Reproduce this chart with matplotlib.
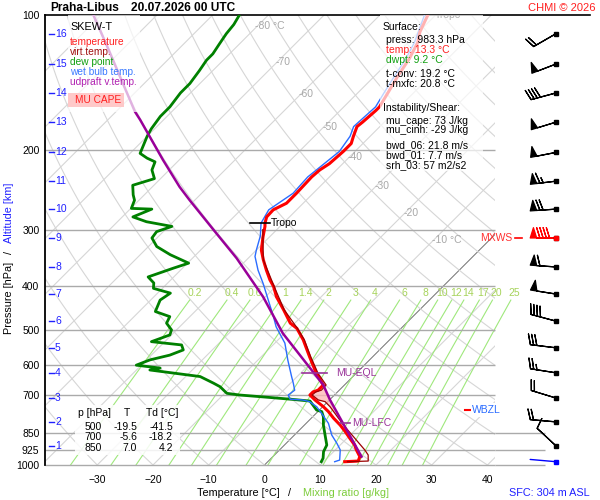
import numpy as np
import matplotlib
matplotlib.use('Agg')
import matplotlib.pyplot as plt
from matplotlib.patches import Rectangle
from matplotlib.transforms import Affine2D

plt.rcParams['font.family'] = ['Liberation Sans', 'DejaVu Sans']

# Sounding values (pressure hPa, temperature degC)
temp_p = [983.3, 980, 958, 926, 903, 872, 843, 815, 787, 761,
          742, 717, 699, 688, 682, 664, 626, 575, 527, 497,
          484, 452, 423, 401, 388, 369, 350, 333, 311, 295,
          290, 281, 271, 262, 249, 229, 221, 214, 201, 193,
          186, 177, 173, 163, 160, 149, 137, 125, 115, 109, 100]
temp_t = [13.8, 16.1, 15.6, 13.8, 12.6, 10.5, 8.5, 6.4, 4.0, 1.9,
          0.1, -2.6, -4.4, -4.4, -3.8, -3.8, -7.1, -11.3, -15.5, -18.7,
          -20.8, -24.4, -28.0, -30.4, -32.2, -34.6, -37.0, -39.1, -41.2, -42.7,
          -43.3, -44.1, -44.2, -43.0, -43.0, -43.2, -43.0, -42.4, -42.1, -42.1,
          -43.0, -44.1, -43.9, -43.6, -43.6, -44.6, -45.8, -46.9, -48.3, -49.8, -51.4]

tv_p = [983.3, 980, 950, 926, 872, 815, 742, 723, 717, 699,
        688, 682, 664, 626, 575, 527, 497, 452, 401, 350, 300]
tv_t = [14.3, 17.9, 16.8, 15.3, 11.4, 7.0, 1.3, -0.5, -2.0, -4.0,
        -3.9, -3.2, -3.3, -6.8, -11.1, -15.3, -18.6, -24.3, -30.3, -37.0, -42.5]

dew_p = [983.3, 966, 934, 903, 858, 815, 781, 761, 755, 721,
         715, 707, 699, 693, 670, 658, 636, 615, 609, 600,
         584, 570, 555, 541, 532, 514, 501, 484, 468, 456,
         430, 415, 405, 394, 382, 365, 356, 341, 327, 313,
         303, 295, 288, 281, 270, 269, 258, 251, 239, 231,
         221, 212, 208, 203, 186, 179, 168, 160, 149, 142,
         133, 126, 122, 116, 110, 105, 100]
dew_t = [9.6, 9.3, 8.2, 7.6, 5.5, 3.4, 1.9, 0.7, -0.5, -3.3,
         -6.6, -11.7, -17.0, -19.6, -22.0, -23.8, -27.4, -37.6, -36.1, -40.9,
         -39.4, -36.7, -35.2, -36.4, -42.4, -40.3, -40.9, -43.0, -43.6, -47.1,
         -48.3, -47.7, -51.6, -52.5, -54.6, -51.6, -49.8, -54.6, -58.5, -60.9,
         -61.2, -59.4, -64.8, -68.1, -66.1, -69.9, -70.8, -72.0, -73.8, -71.1,
         -73.1, -74.0, -76.1, -78.2, -80.0, -80.6, -81.2, -81.2, -81.8, -81.8,
         -82.4, -83.0, -83.0, -83.6, -84.2, -84.5, -85.2]

wb_p = [983.3, 975, 926, 895, 858, 808, 768, 742, 723, 717,
        714, 699, 682, 658, 636, 585, 536, 493, 468, 430,
        395, 369, 344, 333, 310, 290, 271, 249, 229, 201,
        186, 177, 160, 150, 137, 125, 115, 100]
wb_t = [12.0, 12.6, 10.9, 9.1, 6.7, 4.0, 1.0, -1.1, -3.3, -4.8,
        -7.2, -8.3, -8.0, -9.5, -11.0, -14.6, -18.2, -22.7, -25.0, -28.9,
        -32.8, -36.1, -39.1, -40.0, -41.8, -44.0, -45.0, -43.6, -43.9, -42.8,
        -43.6, -44.7, -44.3, -45.2, -46.4, -47.5, -48.9, -52.0]

par_p = [958, 717, 664, 510, 423, 347, 306, 258, 241, 210, 171, 164, 142, 120, 100]
par_t = [15.9, 0.1, -3.8, -20.3, -30.4, -42.1, -50.1, -60.9, -65.1, -72.9,
         -84.2, -86.6, -93.8, -102.2, -111.4]

tropo_p = [290, 100]
eql_p = 625
lfc_p = 808
wbzl_p = 755

# altitude axis (km) and the winds plotted at those heights
alt_km = list(range(1, 17))
alt_p = [907, 802, 710, 624, 549, 479, 417, 363, 313, 270, 234, 202, 173, 149, 128.5, 110]
wind_dir = [313, 275, 287, 279, 277, 285, 279, 274, 270, 266, 263, 259, 253, 255, 249, 240]
wind_kt = [10, 20, 20, 25, 30, 40, 50, 60, 90, 70, 65, 50, 50, 40, 50, 20]
sfc_p = 983.3
sfc_dir = 275

p_ticks = [100, 200, 300, 400, 500, 600, 700, 850, 925, 1000]
t_ticks = [-30, -20, -10, 0, 10, 20, 30, 40]
mix_ratios = [0.2, 0.4, 0.6, 1, 1.4, 2, 3, 4, 6, 8, 10, 12, 14, 17, 20, 25]
iso_lab_t = [-80, -70, -60, -50, -40, -30, -20, -10]
iso_lab_p = [106, 127, 150, 177, 207, 240, 275, 316]

table_p = [500, 700, 850]
table_t = [-19.5, -5.6, 7.0]
table_td = [-41.5, -18.2, 4.2]

SKEW = 35.05


def skx(t, p):
    return np.asarray(t, float) + SKEW * np.log(1000.0 / np.asarray(p, float))


def interp_lnp(pg, p, t):
    return np.interp(np.log(pg), np.log(np.asarray(p)[::-1]), np.asarray(t)[::-1])


fig = plt.figure(figsize=(6, 5), dpi=100)
px = Affine2D().scale(1 / 600, -1 / 500).translate(0, 1) + fig.transFigure
ax = fig.add_axes([45 / 600, 35 / 500, 450 / 600, 450 / 500])
ax.set_yscale('log')
x0, x1 = -39.37, 41.35
ax.set_xlim(x0, x1)
ax.set_ylim(1000, 100)

# background: isotherms, dry adiabats, mixing ratio lines, isobars
for t in range(-140, 50, 10):
    col, lw = ('#707070', 0.7) if t == 0 else ('#d6d6d6', 0.8)
    ax.plot(skx([t, t], [1000, 100]), [1000, 100], color=col, lw=lw, zorder=1)
pp = np.geomspace(1000, 100, 60)
for th in range(-40, 230, 10):
    tt = (th + 273.15) * (pp / 1000.0) ** 0.2857 - 273.15
    ax.plot(skx(tt, pp), pp, color='#d6d6d6', lw=0.8, zorder=1)
pm = np.geomspace(1000, 430, 30)
for w in mix_ratios:
    for pl, lab in [(pm, None), (np.array([415.0]), w)]:
        e = w * pl / (622.0 + w)
        a = np.log(e / 6.112)
        td = 243.5 * a / (17.67 - a)
        if lab is None:
            ax.plot(skx(td, pl), pl, color='#9fe87c', lw=0.8, zorder=1, clip_on=False)
        else:
            ax.text(skx(td, pl)[0], pl[0], f'{lab:g}', color='#a6d35a', fontsize=7.5,
                    ha='center', va='center', zorder=2, clip_on=False)
for t, p in zip(iso_lab_t, iso_lab_p):
    s = f'{t} °C' if t in (-80, -10) else f'{t}'
    ax.text(skx(t, p) - 0.3, p, s, color='#a8a8a8', fontsize=7.5, va='center', ha='left', zorder=2)

ax.hlines(p_ticks[1:], x0, x1, colors='#aaaaaa', lw=1, zorder=2, clip_on=False)
ax.hlines([850, 925, 1000], x1, 50.3, colors='#aaaaaa', lw=1, zorder=2, clip_on=False)
ax.plot([x0, 58.4], [100, 100], color='black', lw=1.2, zorder=2, clip_on=False)

# CAPE area between the parcel and the virtual temperature
pg = np.geomspace(lfc_p, eql_p, 200)
tv_g = interp_lnp(pg, tv_p, tv_t)
par_g = interp_lnp(pg, par_p, par_t)
ax.fill_betweenx(pg, skx(tv_g, pg), skx(par_g, pg), where=par_g > tv_g,
                 color='#ffb4b4', alpha=0.75, lw=0, zorder=3)

ax.plot(skx(dew_t, dew_p), dew_p, color='#008000', lw=2.0, zorder=4)
ax.plot(skx(wb_t, wb_p), wb_p, color='#2a6cff', lw=1.0, zorder=5)
ax.plot(skx(temp_t, temp_p), temp_p, color='#ff0000', lw=2.2, zorder=6)
ax.plot(skx(tv_t, tv_p), tv_p, color='#9b0000', lw=0.9, zorder=7)
ax.plot(skx(par_t, par_p), par_p, color='#990099', lw=1.8, zorder=8)

# level markers
xt = interp_lnp(np.array([tropo_p[0]]), temp_p, temp_t)
xt = skx(xt, tropo_p[0])[0]
ax.plot([xt - 2.7, xt + 0.9], [tropo_p[0]] * 2, color='black', lw=1.2, zorder=9)
ax.text(xt + 1.1, tropo_p[0], 'Tropo', fontsize=7.5, va='center', zorder=9)
xt2 = skx(interp_lnp(np.array([tropo_p[1]]), temp_p, temp_t), tropo_p[1])[0]
ax.text(xt2 + 1.3, tropo_p[1], 'Tropo', fontsize=7.5, va='center', zorder=9, clip_on=True)
xe = skx(interp_lnp(np.array([eql_p]), par_p, par_t), eql_p)[0]
ax.plot([xe - 2.2, xe + 2.4], [eql_p] * 2, color='#993399', lw=1.2, zorder=9)
ax.text(xe + 4.0, eql_p, 'MU-EQL', color='#993399', fontsize=7.5, va='center', zorder=9)
xl = skx(interp_lnp(np.array([lfc_p]), par_p, par_t), lfc_p)[0]
ax.plot([xl - 0.5, xl + 1.3], [lfc_p] * 2, color='#993399', lw=1.2, zorder=9)
ax.text(xl + 1.6, lfc_p, 'MU-LFC', color='#993399', fontsize=7.5, va='center', zorder=9)
ax.plot([36.0, 36.9], [wbzl_p] * 2, color='red', lw=1.5, zorder=9, clip_on=False)
ax.text(37.3, wbzl_p, 'WBZL', color='#2a6cff', fontsize=7.5, va='center', zorder=9,
        clip_on=False, bbox=dict(facecolor='white', edgecolor='none', pad=1.2))

# wind barbs
wind_kt_a = np.array(wind_kt, float)
wu = -wind_kt_a * np.sin(np.radians(wind_dir))
wv = -wind_kt_a * np.cos(np.radians(wind_dir))
xb = 52.3
imax = int(np.argmax(wind_kt_a))
cols = ['red' if i == imax else 'black' for i in range(len(wind_kt))]
ax.barbs(np.full(len(alt_p), xb), alt_p, wu, wv, length=6.1, barbcolor=cols,
         flagcolor=cols, linewidth=0.9, clip_on=False, zorder=9)
ax.plot(np.full(len(alt_p), xb), alt_p, 's', ms=3, color='black', clip_on=False, zorder=10)
ax.plot([xb], [alt_p[imax]], 's', ms=3, color='red', clip_on=False, zorder=10)
L = 18.7
ax.annotate('', xy=(xb, sfc_p), xytext=(L * np.sin(np.radians(sfc_dir)), L * np.cos(np.radians(sfc_dir))),
            textcoords='offset points', annotation_clip=False,
            arrowprops=dict(arrowstyle='-', color='#0000ff', lw=1, shrinkA=0, shrinkB=0))
ax.plot([xb], [sfc_p], 's', ms=3, color='#0000ff', clip_on=False, zorder=10)
ax.plot([45.0, 46.2], [alt_p[imax]] * 2, color='red', lw=1.2, clip_on=False, zorder=9)
ax.text(44.4, alt_p[imax], 'MXWS', color='#ff3030', fontsize=7.5, ha='right', va='center',
        clip_on=False, zorder=9)

# axes styling
ax.set_yticks(p_ticks)
ax.set_yticklabels([str(p) for p in p_ticks])
ax.minorticks_off()
ax.set_xticks(t_ticks)
ax.tick_params(axis='y', length=0, pad=4, labelsize=7.5)
ax.tick_params(axis='x', length=0, pad=7, labelsize=7.5)
for s in ['top', 'right', 'bottom']:
    ax.spines[s].set_visible(False)
ax.spines['left'].set_linewidth(1.3)

ytr = ax.get_yaxis_transform()
for km, p in zip(alt_km, alt_p):
    ax.plot([4 / 450, 8.5 / 450], [p, p], transform=ytr, color='#2020ff', lw=1, clip_on=False, zorder=9)
    ax.text(10 / 450, p, str(km), transform=ytr, color='#2020ff', fontsize=7.5,
            va='center', ha='left', zorder=9)

# overlay boxes
fig.add_artist(Rectangle((68, 15), 72, 97, transform=px, facecolor='white', alpha=0.7, edgecolor='none'))
fig.add_artist(Rectangle((68, 93), 56, 14, transform=px, facecolor='#ffc4c4', alpha=0.9, edgecolor='none'))
fig.add_artist(Rectangle((380, 15), 103, 156, transform=px, facecolor='white', alpha=0.7, edgecolor='none'))
fig.add_artist(Rectangle((75, 405), 105, 50, transform=px, facecolor='white', alpha=0.85, edgecolor='none'))


def ftext(x, y, s, **kw):
    kw.setdefault('fontsize', 7.5)
    kw.setdefault('va', 'center')
    fig.text(x, y, s, transform=px, **kw)


ftext(50, 8, 'Praha-Libus', fontsize=8.6, weight='bold')
ftext(131, 8, '20.07.2026 00 UTC', fontsize=8.6, weight='bold')
ftext(596, 8, 'CHMI © 2026', color='#ff2020', ha='right', fontsize=8)

ftext(70, 27, 'SKEW-T', fontsize=7.8)
ftext(70, 42, 'temperature', color='#ff2020', fontsize=7.3)
ftext(70, 52, 'virt.temp.', color='#a01010', fontsize=7.3)
ftext(70, 62, 'dew point', color='#10a010', fontsize=7.3)
ftext(70, 72, 'wet bulb temp.', color='#3a7aff', fontsize=7.3)
ftext(70, 82, 'udpraft v.temp.', color='#b020b0', fontsize=7.3)
ftext(75, 100, 'MU CAPE', color='#ff2020', fontsize=7.3)

ftext(383, 27, 'Surface:')
ftext(386, 40, 'press: 983.3 hPa')
ftext(386, 50, 'temp: 13.3 °C', color='#ff2020')
ftext(386, 60, 'dwpt: 9.2 °C', color='#10a010')
ftext(386, 74, 't-conv: 19.2 °C')
ftext(386, 84, 't-mxfc: 20.8 °C')
ftext(383, 108, 'Instability/Shear:')
ftext(386, 121, 'mu_cape: 73 J/kg')
ftext(386, 130, 'mu_cinh: -29 J/kg')
ftext(386, 145, 'bwd_06: 21.8 m/s')
ftext(386, 155, 'bwd_01: 7.7 m/s')
ftext(386, 165, 'srh_03: 57 m2/s2')

ftext(78, 413, 'p [hPa]')
ftext(127, 413, 'T', ha='center')
ftext(146, 413, 'Td [°C]')
for i, (p, t, td) in enumerate(zip(table_p, table_t, table_td)):
    y = 427 + i * 10.5
    ftext(102, y, f'{p}', ha='right')
    ftext(137, y, f'{t:.1f}', ha='right')
    ftext(173, y, f'{td:.1f}', ha='right')

ftext(9, 298, 'Pressure [hPa]', rotation=90, ha='center', fontsize=7.8)
ftext(9, 253, '/', rotation=90, ha='center', fontsize=7.8)
ftext(9, 213, 'Altitude [km]', rotation=90, ha='center', fontsize=7.8, color='#2020ff')
ftext(197, 493, 'Temperature [°C]', fontsize=7.8)
ftext(288, 493, '/', fontsize=7.8)
ftext(303, 493, 'Mixing ratio [g/kg]', fontsize=7.8, color='#7ccc3a')
ftext(590, 493, 'SFC: 304 m ASL', fontsize=7.8, color='#2020ff', ha='right')

fig.savefig('out.png', dpi=100, facecolor='white')
